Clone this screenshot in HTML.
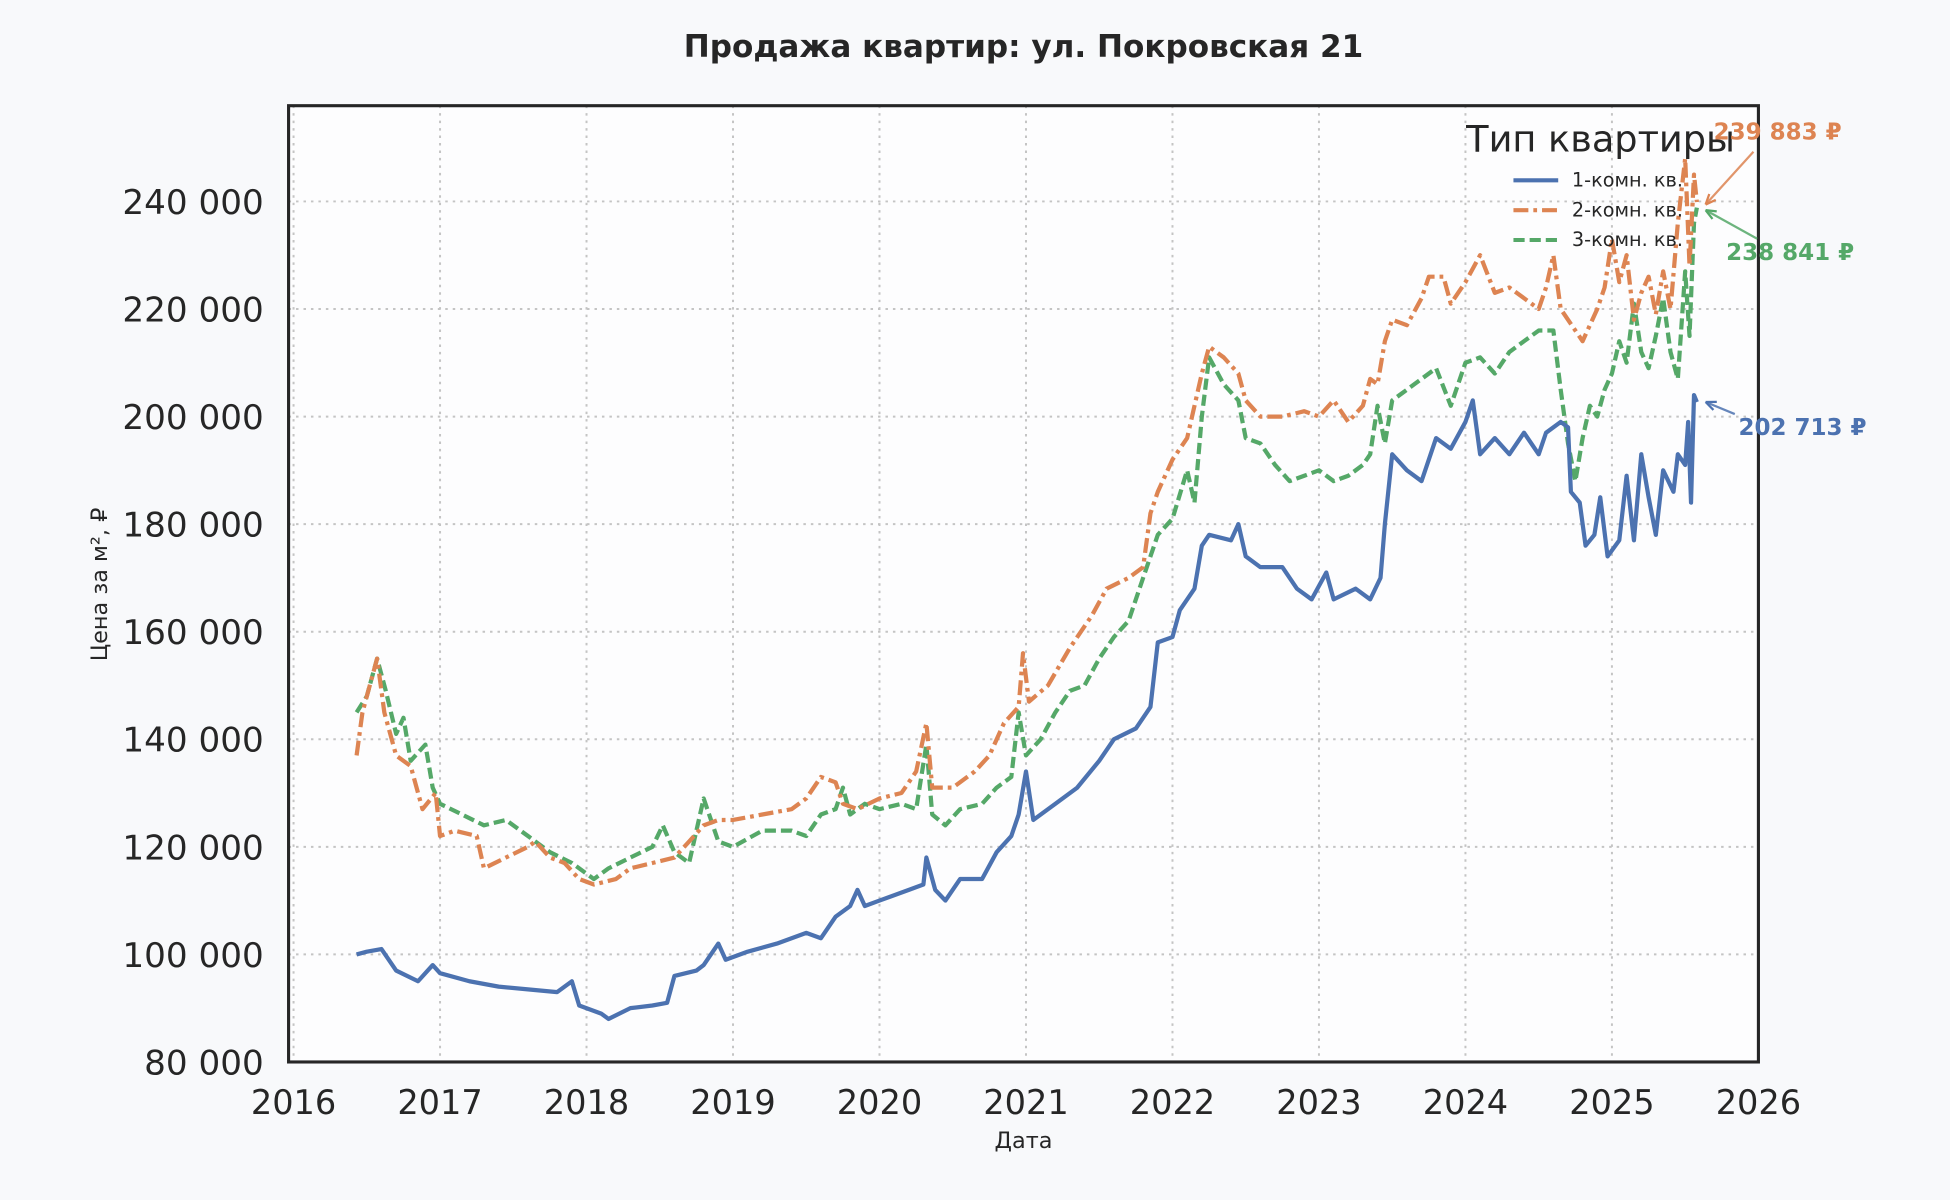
<!DOCTYPE html>
<html><head><meta charset="utf-8">
<style>
html,body{margin:0;padding:0;background:#f8f9fb;}
svg{display:block;}
text{font-family:"DejaVu Sans","Liberation Sans",sans-serif;fill:#262626;}
</style></head>
<body>
<svg id="chart" width="1950" height="1200" viewBox="0 0 1568 965" xmlns="http://www.w3.org/2000/svg">
<rect x="0" y="0" width="1568" height="965" fill="#f8f9fb"/>
<text x="823" y="46" text-anchor="middle" font-size="25" font-weight="bold">Продажа квартир: ул. Покровская 21</text>
<rect x="232" y="85" width="1182" height="769" fill="#fdfdfe"/>
<g id="grid"></g>
<g id="series"></g>
<rect x="232" y="85" width="1182" height="769" fill="none" stroke="#262626" stroke-width="2.5"/>
<g id="ticks"></g>
<text x="823" y="923" text-anchor="middle" font-size="18">Дата</text>
<text x="86" y="470" text-anchor="middle" font-size="18" transform="rotate(-90 86 470)">Цена за м², ₽</text>
<g>
<text x="1179" y="122" font-size="29.5">Тип квартиры</text>
<g><line x1="1217" y1="145" x2="1253" y2="145" stroke="#4c72b0" stroke-width="3.3"/><text x="1264" y="150" font-size="15.5">1-комн. кв.</text></g>
<g><line x1="1217" y1="169" x2="1253" y2="169" stroke="#dd8452" stroke-width="3.3" stroke-dasharray="12,4,3,4"/><text x="1264" y="174" font-size="15.5">2-комн. кв.</text></g>
<g><line x1="1217" y1="193" x2="1253" y2="193" stroke="#55a868" stroke-width="3.3" stroke-dasharray="9,4"/><text x="1264" y="198" font-size="15.5">3-комн. кв.</text></g>
</g>
<g id="annot"></g>
</svg>
<script>
const yTicks=[80000,100000,120000,140000,160000,180000,200000,220000,240000];
const xTicks=[2016,2017,2018,2019,2020,2021,2022,2023,2024,2025,2026];
const datesBlue=[2016.43,2016.5,2016.6,2016.7,2016.85,2016.95,2017.0,2017.2,2017.4,2017.6,2017.8,2017.9,2017.95,2018.1,2018.15,2018.3,2018.45,2018.55,2018.6,2018.75,2018.8,2018.9,2018.95,2019.1,2019.3,2019.5,2019.6,2019.7,2019.8,2019.85,2019.9,2020.0,2020.2,2020.3,2020.32,2020.38,2020.45,2020.55,2020.7,2020.8,2020.9,2020.95,2021.0,2021.05,2021.2,2021.35,2021.5,2021.6,2021.75,2021.85,2021.9,2022.0,2022.05,2022.15,2022.2,2022.25,2022.4,2022.45,2022.5,2022.6,2022.75,2022.85,2022.95,2023.05,2023.1,2023.25,2023.35,2023.42,2023.45,2023.5,2023.6,2023.7,2023.8,2023.9,2024.0,2024.05,2024.1,2024.2,2024.3,2024.4,2024.5,2024.55,2024.65,2024.7,2024.72,2024.78,2024.82,2024.88,2024.92,2024.97,2025.05,2025.1,2025.15,2025.2,2025.25,2025.3,2025.35,2025.42,2025.45,2025.5,2025.52,2025.54,2025.56,2025.58];
const valuesBlue=[100000,100500,101000,97000,95000,98000,96500,95000,94000,93500,93000,95000,90500,89000,88000,90000,90500,91000,96000,97000,98000,102000,99000,100500,102000,104000,103000,107000,109000,112000,109000,110000,112000,113000,118000,112000,110000,114000,114000,119000,122000,126000,134000,125000,128000,131000,136000,140000,142000,146000,158000,159000,164000,168000,176000,178000,177000,180000,174000,172000,172000,168000,166000,171000,166000,168000,166000,170000,180000,193000,190000,188000,196000,194000,199000,203000,193000,196000,193000,197000,193000,197000,199000,198000,186000,184000,176000,178000,185000,174000,177000,189000,177000,193000,185000,178000,190000,186000,193000,191000,199000,184000,204000,202713];
const datesOrange=[2016.43,2016.47,2016.52,2016.57,2016.62,2016.7,2016.8,2016.88,2016.97,2017.0,2017.1,2017.25,2017.3,2017.45,2017.6,2017.65,2017.75,2017.85,2017.95,2018.05,2018.2,2018.3,2018.45,2018.6,2018.7,2018.8,2018.9,2019.0,2019.2,2019.4,2019.5,2019.6,2019.7,2019.75,2019.85,2020.0,2020.15,2020.25,2020.32,2020.36,2020.5,2020.65,2020.75,2020.85,2020.95,2020.98,2021.02,2021.15,2021.3,2021.45,2021.55,2021.7,2021.8,2021.85,2021.9,2022.0,2022.1,2022.2,2022.25,2022.35,2022.45,2022.5,2022.6,2022.75,2022.9,2023.0,2023.1,2023.2,2023.3,2023.35,2023.4,2023.45,2023.5,2023.6,2023.7,2023.75,2023.85,2023.9,2024.0,2024.1,2024.2,2024.3,2024.4,2024.5,2024.55,2024.6,2024.65,2024.75,2024.8,2024.9,2024.95,2025.0,2025.05,2025.1,2025.15,2025.2,2025.25,2025.3,2025.35,2025.4,2025.45,2025.5,2025.53,2025.56,2025.58];
const valuesOrange=[137000,145000,150000,155000,145000,137000,135000,127000,130000,122000,123000,122000,116000,118000,120000,121000,118000,117000,114000,113000,114000,116000,117000,118000,121000,124000,125000,125000,126000,127000,129000,133000,132000,128000,127000,129000,130000,134000,143000,131000,131000,134000,137000,143000,146000,156000,147000,150000,157000,163000,168000,170000,172000,182000,186000,192000,196000,208000,213000,211000,208000,203000,200000,200000,201000,200000,203000,199000,202000,207000,206000,214000,218000,217000,222000,226000,226000,221000,225000,230000,223000,224000,222000,220000,224000,230000,220000,216000,214000,220000,224000,233000,225000,230000,218000,223000,226000,219000,227000,220000,236000,248000,228000,245000,239883];
const datesGreen=[2016.43,2016.5,2016.57,2016.63,2016.7,2016.75,2016.8,2016.9,2016.95,2017.0,2017.15,2017.3,2017.45,2017.6,2017.75,2017.9,2018.05,2018.15,2018.3,2018.45,2018.52,2018.6,2018.7,2018.8,2018.9,2019.0,2019.2,2019.4,2019.5,2019.6,2019.7,2019.75,2019.8,2019.9,2020.0,2020.15,2020.25,2020.32,2020.36,2020.45,2020.55,2020.7,2020.8,2020.9,2020.95,2021.0,2021.1,2021.2,2021.3,2021.4,2021.5,2021.6,2021.7,2021.8,2021.9,2022.0,2022.1,2022.15,2022.2,2022.25,2022.35,2022.45,2022.5,2022.6,2022.7,2022.8,2022.9,2023.0,2023.1,2023.2,2023.3,2023.35,2023.4,2023.45,2023.5,2023.6,2023.7,2023.8,2023.9,2024.0,2024.1,2024.2,2024.3,2024.4,2024.5,2024.6,2024.65,2024.7,2024.75,2024.8,2024.85,2024.9,2024.95,2025.0,2025.05,2025.1,2025.15,2025.2,2025.25,2025.3,2025.35,2025.4,2025.45,2025.5,2025.53,2025.56,2025.58];
const valuesGreen=[145000,148000,155000,149000,141000,144000,136000,139000,131000,128000,126000,124000,125000,122000,119000,117000,114000,116000,118000,120000,124000,119000,117000,129000,121000,120000,123000,123000,122000,126000,127000,131000,126000,128000,127000,128000,127000,139000,126000,124000,127000,128000,131000,133000,145000,137000,140000,145000,149000,150000,155000,159000,162000,170000,178000,181000,190000,184000,200000,211000,206000,203000,196000,195000,191000,188000,189000,190000,188000,189000,191000,193000,202000,195000,203000,205000,207000,209000,202000,210000,211000,208000,212000,214000,216000,216000,205000,195000,188000,196000,202000,200000,205000,208000,214000,210000,221000,212000,209000,215000,222000,212000,207000,227000,215000,236000,238841];
const annotLabels=["239 883 ₽","238 841 ₽","202 713 ₽"];

const L=232,R=1414,T=85,B=854,XMIN=2015.966,XMAX=2026,YMIN=80000,YMAX=257800;
const NS="http://www.w3.org/2000/svg";
function sx(v){return L+(v-XMIN)/(XMAX-XMIN)*(R-L);}
function sy(v){return B-(v-YMIN)/(YMAX-YMIN)*(B-T);}
function mk(tag,attrs,parent){const e=document.createElementNS(NS,tag);for(const k in attrs)e.setAttribute(k,attrs[k]);parent.appendChild(e);return e;}
const grid=document.getElementById('grid'),ticks=document.getElementById('ticks');
yTicks.forEach(v=>{
  const g=mk('line',{x1:L,x2:R,y1:sy(v),y2:sy(v),stroke:'#c4c4c4','stroke-width':1.6,'stroke-dasharray':'2,4'},grid);
  
  
  const t=mk('text',{x:212,y:sy(v)+10,'text-anchor':'end','font-size':27.5},ticks);
  t.textContent=v.toLocaleString('en-US').replace(/,/g,' ');
  
  
});
xTicks.forEach(v=>{
  const g=mk('line',{x1:sx(v),x2:sx(v),y1:T,y2:B,stroke:'#c4c4c4','stroke-width':1.6,'stroke-dasharray':'2,4'},grid);
  
  
  const t=mk('text',{x:sx(v),y:896,'text-anchor':'middle','font-size':27},ticks);
  t.textContent=v;
  
  
});
const ser=document.getElementById('series');
function line(dates,vals,color,dash,name){
  const d=dates.map((x,i)=>(i?'L':'M')+sx(x).toFixed(1)+','+sy(vals[i]).toFixed(1)).join(' ');
  const p=mk('path',{d:d,fill:'none',stroke:color,'stroke-width':3.4,'stroke-dasharray':dash,'stroke-linejoin':'round'},ser);
  
  
}
line(datesGreen,valuesGreen,'#55a868','9,4','series-3room');
line(datesOrange,valuesOrange,'#dd8452','12,4,3,4','series-2room');
line(datesBlue,valuesBlue,'#4c72b0','none','series-1room');
const an=document.getElementById('annot');
const lastO=valuesOrange[valuesOrange.length-1],lastG=valuesGreen[valuesGreen.length-1],lastB=valuesBlue[valuesBlue.length-1];
const ax=sx(datesBlue[datesBlue.length-1])+7;
const specs=[[annotLabels[0],'#dd8452',1378,112,1410,122,ax,sy(lastO)+2,'annotation-2room'],
             [annotLabels[1],'#55a868',1388,209,1413,192,ax,sy(lastG)+2,'annotation-3room'],
             [annotLabels[2],'#4c72b0',1398,350,1395,333,ax,sy(lastB),'annotation-1room']];
specs.forEach(s=>{
  const g=mk('g',{},an);
  
  
  mk('line',{x1:s[4],y1:s[5],x2:s[6],y2:s[7],stroke:s[1],'stroke-width':1.8,opacity:0.85},g);
  const a=Math.atan2(s[7]-s[5],s[6]-s[4]);
  const hx=s[6],hy=s[7],l=9;
  mk('path',{d:`M${hx},${hy} L${hx-l*Math.cos(a-0.4)},${hy-l*Math.sin(a-0.4)} M${hx},${hy} L${hx-l*Math.cos(a+0.4)},${hy-l*Math.sin(a+0.4)}`,stroke:s[1],'stroke-width':1.8,fill:'none'},g);
  const t=mk('text',{x:s[2],y:s[3],'font-size':18.5,'font-weight':'bold',fill:s[1]},g);
  t.style.fill=s[1];
  t.textContent=s[0];
});
</script>
</body></html>
